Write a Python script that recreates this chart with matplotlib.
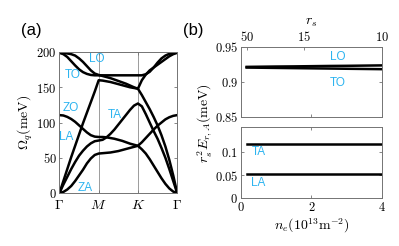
import matplotlib
matplotlib.use('Agg')
import matplotlib.pyplot as plt

plt.rcParams['mathtext.fontset'] = 'cm'
plt.rcParams['font.family'] = ['Liberation Sans', 'DejaVu Sans']

# (a) phonon dispersion along Gamma-M-K-Gamma, 10 samples per segment
k_path = [i / 10 for i in range(31)]
za = [0, 1.5, 5, 10, 17, 25, 33, 42, 49, 54, 56,
      56.5, 57, 57.5, 58.5, 59.5, 61, 62.5, 64, 65.5, 67,
      62, 56, 48, 39, 30, 21, 13, 6.5, 2, 0]
zo = [110.5, 110, 108, 105, 101, 96, 91, 86, 82, 80, 79.5,
      79.5, 79, 78, 77, 75.5, 74, 72, 70, 68.5, 67,
      72, 78, 84, 90, 95.5, 100, 104.5, 107.5, 109.5, 110.5]
ta = [0, 12, 23, 34, 44, 53, 60, 66, 70.5, 73.5, 74.5,
      75.5, 79, 84, 90, 97, 104, 111, 118, 124, 127,
      123, 112, 100, 88, 77, 64, 50, 34, 17, 0]
la = [0, 17, 34, 51, 67, 83, 99, 114, 129, 144, 160,
      159.5, 158.5, 157.5, 156, 154.5, 153, 151.5, 150, 149, 148,
      139, 129, 119, 108, 96, 82, 66, 47, 25, 0]
to = [199, 197, 193, 187, 181, 175.5, 171.5, 169, 167.5, 167, 167,
      167, 167, 167, 167, 167, 167, 167, 167, 167, 167,
      167, 168.5, 172, 178, 185, 191, 195, 197.5, 198.5, 199]
lo = [199, 198.5, 198, 197, 195, 191, 186, 180, 174, 169.5, 167.5,
      166, 164.5, 163, 161, 159, 157, 155, 152.5, 150, 148,
      160, 168, 174, 178, 182, 186, 190, 194, 197, 199]
branches = [za, zo, ta, la, to, lo]
k_ticks = [0, 1, 2, 3]
k_labels = [r'$\Gamma$', r'$M$', r'$K$', r'$\Gamma$']

# (b) scaled energies vs electron density
ne = [0.16, 0.5, 1, 1.5, 2, 2.5, 3, 3.5, 4]
lo_b = [0.9215, 0.9217, 0.922, 0.9222, 0.9225, 0.9228, 0.923, 0.9233, 0.9236]
to_b = [0.9205, 0.9203, 0.92, 0.9197, 0.9194, 0.9191, 0.9188, 0.9185, 0.9182]
ta_b = [0.118, 0.118, 0.118, 0.118, 0.118, 0.118, 0.118, 0.118, 0.118]
la_b = [0.0515, 0.0515, 0.0515, 0.0515, 0.0515, 0.0515, 0.0515, 0.0515, 0.0515]
rs_ticks = [50, 15, 10]

blue = '#2DB4F0'
spine_c = '0.45'


def style(ax):
    for sp in ax.spines.values():
        sp.set_color(spine_c)
        sp.set_linewidth(0.7)
    ax.tick_params(direction='in', top=True, right=True, length=2.5,
                   width=0.6, color=spine_c, labelsize=9, pad=2)


def mlab(vals):
    return ['$%g$' % v for v in vals]


fig = plt.figure(figsize=(3.99, 2.46), dpi=100)

axa = fig.add_axes([0.149, 0.2154, 0.295, 0.573])
for b in branches:
    axa.plot(k_path, b, color='k', lw=1.8)
for kk in k_ticks[1:3]:
    axa.axvline(kk, color='0.55', lw=0.6, zorder=0)
axa.set_xlim(0, 3)
axa.set_ylim(0, 200)
axa.set_xticks(k_ticks)
axa.set_xticklabels(k_labels)
yt = [0, 50, 100, 150, 200]
axa.set_yticks(yt)
axa.set_yticklabels(mlab(yt))
style(axa)
axa.tick_params(axis='x', labelsize=10, pad=3.5)

for txt, x, y in [('LO', 0.95, 190), ('TO', 0.35, 167), ('ZO', 0.29, 121),
                  ('TA', 1.42, 111), ('LA', 0.17, 80), ('ZA', 0.65, 7)]:
    axa.text(x, y, txt, color=blue, fontsize=8.5, ha='center', va='center')

fig.text(0.063, 0.504, r'$\Omega_q(\mathrm{meV})$', rotation=90,
         ha='center', va='center', fontsize=10)
fig.text(0.078, 0.878, '(a)', fontsize=12, ha='center', va='center')
fig.text(0.484, 0.878, '(b)', fontsize=12, ha='center', va='center')

# top panel of (b)
axt = fig.add_axes([0.604, 0.5244, 0.353, 0.285])
axt.plot(ne, lo_b, color='k', lw=1.8)
axt.plot(ne, to_b, color='k', lw=1.8)
axt.set_xlim(0, 4)
axt.set_ylim(0.85, 0.95)
axt.set_xticks([0, 2, 4])
axt.set_xticklabels([])
yt = [0.85, 0.9, 0.95]
axt.set_yticks(yt)
axt.set_yticklabels(mlab(yt))
style(axt)
axt.tick_params(top=False)
axt.text(2.75, 0.935, 'LO', color=blue, fontsize=8.5, ha='center', va='center')
axt.text(2.75, 0.899, 'TO', color=blue, fontsize=8.5, ha='center', va='center')

axr = axt.twiny()
axr.set_xlim(0, 4)
axr.set_xticks([(20 / r) ** 2 for r in rs_ticks])
axr.set_xticklabels(mlab(rs_ticks))
axr.tick_params(direction='in', length=2.5, width=0.6, color=spine_c,
                labelsize=9, pad=2)
axr.set_xlabel(r'$r_s$', fontsize=10, labelpad=4)
for sp in axr.spines.values():
    sp.set_visible(False)

# bottom panel of (b)
axb = fig.add_axes([0.604, 0.195, 0.353, 0.289])
axb.plot(ne, ta_b, color='k', lw=1.8)
axb.plot(ne, la_b, color='k', lw=1.8)
axb.set_xlim(0, 4)
axb.set_ylim(0, 0.155)
xt = [0, 2, 4]
axb.set_xticks(xt)
axb.set_xticklabels(mlab(xt))
yt = [0, 0.05, 0.1]
axb.set_yticks(yt)
axb.set_yticklabels(mlab(yt))
style(axb)
axb.set_xlabel(r'$n_e(10^{13}\mathrm{m}^{-2})$', fontsize=10, labelpad=2)
axb.text(0.5, 0.1, 'TA', color=blue, fontsize=8.5, ha='center', va='center')
axb.text(0.5, 0.033, 'LA', color=blue, fontsize=8.5, ha='center', va='center')

fig.text(0.514, 0.50, r'$r_s^2E_{r,A}(\mathrm{meV})$', rotation=90,
         ha='center', va='center', fontsize=10)

fig.savefig('out.png', dpi=100)
